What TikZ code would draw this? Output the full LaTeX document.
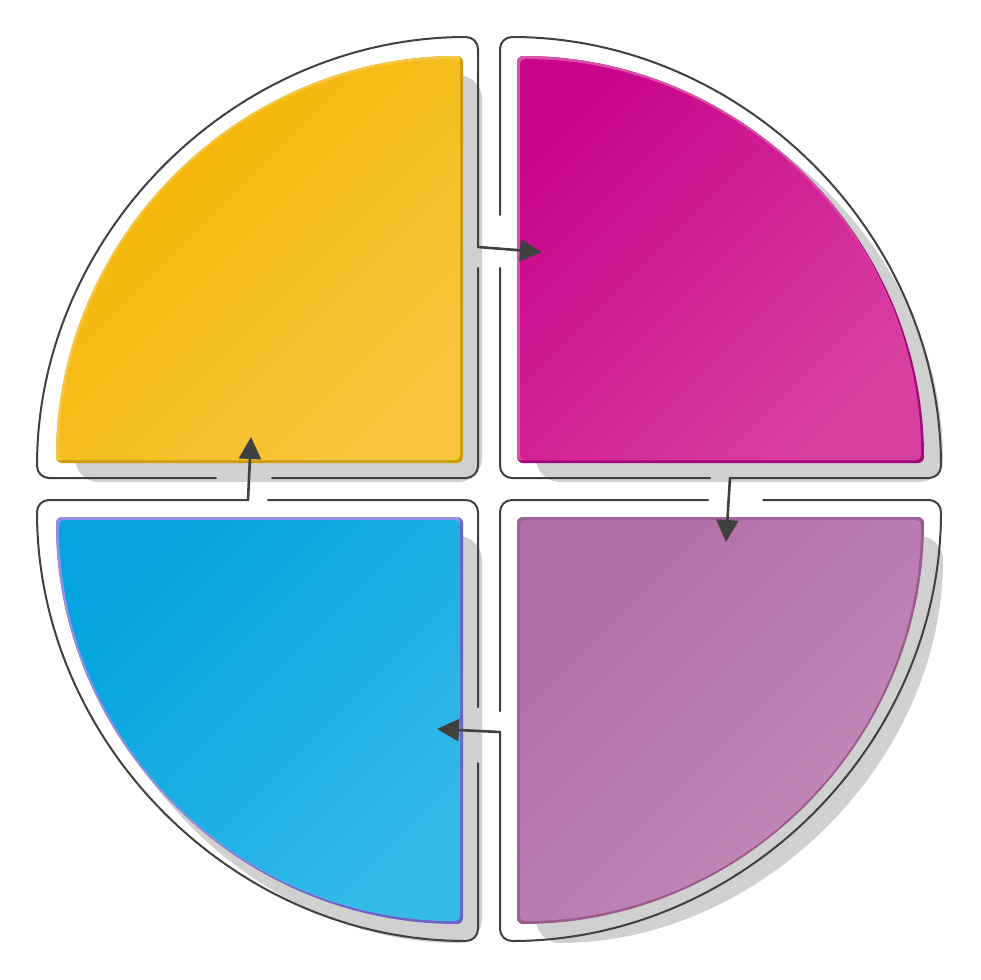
\documentclass[tikz,border=0pt]{standalone}
\usetikzlibrary{arrows.meta}
\definecolor{lineC}{HTML}{404040}
\definecolor{shadowC}{HTML}{D0D0D0}
\definecolor{yTop}{HTML}{F3B400}
\definecolor{yBot}{HTML}{F7C63C}
\definecolor{yLight}{HTML}{F6C745}
\definecolor{yDark}{HTML}{CF9C06}
\definecolor{mTop}{HTML}{C9058C}
\definecolor{mBot}{HTML}{D8409F}
\definecolor{mLight}{HTML}{D951AA}
\definecolor{mDark}{HTML}{A6077A}
\definecolor{pTop}{HTML}{B16DA5}
\definecolor{pBot}{HTML}{C48BBA}
\definecolor{pLight}{HTML}{A0629A}
\definecolor{pDark}{HTML}{9A5A8F}
\definecolor{bTop}{HTML}{02A3DF}
\definecolor{bBot}{HTML}{33BAE7}
\definecolor{bLight}{HTML}{9090E0}
\definecolor{bDark}{HTML}{6A62C6}
\tikzset{
  qpath/.style n args={4}{insert path={(#1,#2) -- ++(#4:#3) arc[start angle=#4, end angle=#4-90, radius=#3] -- cycle}},
  ipath/.style n args={4}{insert path={(#1,#2) ++(#4-45:4.243) -- ++(#4:#3-6) arc[start angle=#4, end angle=#4-90, radius=#3-6] -- cycle}},
  outl/.style={draw=lineC, line width=2pt, line cap=round, rounded corners=12pt},
  conn/.style={draw=lineC, line width=2.6pt, line cap=round, -{Triangle[length=22pt,width=22pt]}},
  shadowq/.style={fill=shadowC, rounded corners=24pt},
}
\newcommand\bevelq[7]{%
  \begin{scope}
    \clip[rounded corners=6pt, qpath={#1}{#2}{407}{#3}];
    \fill[#4] (0,0) rectangle (980,980);
    \fill[#5, rounded corners=6pt, shift={(-3,-3)}, qpath={#1}{#2}{407}{#3}];
    \shade[top color=#6, bottom color=#7, shading angle=45, rounded corners=5pt, ipath={#1}{#2}{407}{#3}];
  \end{scope}}
\begin{document}
\begin{tikzpicture}[x=1pt,y=-1pt]
\useasboundingbox (0,0) rectangle (980,980);
% shadows
\fill[shadowq, qpath={482}{482}{407}{270}];
\fill[shadowq, qpath={536}{482}{407}{0}];
\fill[shadowq, qpath={536}{536}{407}{90}];
\fill[shadowq, qpath={482}{536}{407}{180}];
% connector end points
\coordinate (yOut) at (478,247); \coordinate (mIn) at (542,252);
\coordinate (mOut) at (730,478); \coordinate (pIn) at (726,542);
\coordinate (pOut) at (500,732); \coordinate (bIn) at (437,729);
\coordinate (bOut) at (248,500); \coordinate (yIn) at (251,437);
% outlines
\draw[outl] (478,268) -- (478,478) -- (272,478);
\draw[outl] (216,478) -- (37,478) arc[start angle=180, end angle=270, radius=441] -- (yOut);
\draw[outl] (500,215) -- (500,37) arc[start angle=270, end angle=360, radius=441] -- (mOut);
\draw[outl] (710,478) -- (500,478) -- (500,268);
\draw[outl] (763,500) -- (941,500) arc[start angle=0, end angle=90, radius=441] -- (pOut);
\draw[outl] (500,711) -- (500,500) -- (708,500);
\draw[outl] (478,763) -- (478,941) arc[start angle=90, end angle=180, radius=441] -- (bOut);
\draw[outl] (268,500) -- (478,500) -- (478,707);
% coloured quadrants
\bevelq{463}{463}{270}{yDark}{yLight}{yTop}{yBot}
\bevelq{517}{463}{0}{mDark}{mLight}{mTop}{mBot}
\bevelq{517}{517}{90}{pDark}{pLight}{pTop}{pBot}
\bevelq{463}{517}{180}{bDark}{bLight}{bTop}{bBot}
% connectors
\draw[conn] (yOut) -- (mIn);
\draw[conn] (mOut) -- (pIn);
\draw[conn] (pOut) -- (bIn);
\draw[conn] (bOut) -- (yIn);
\end{tikzpicture}
\end{document}
